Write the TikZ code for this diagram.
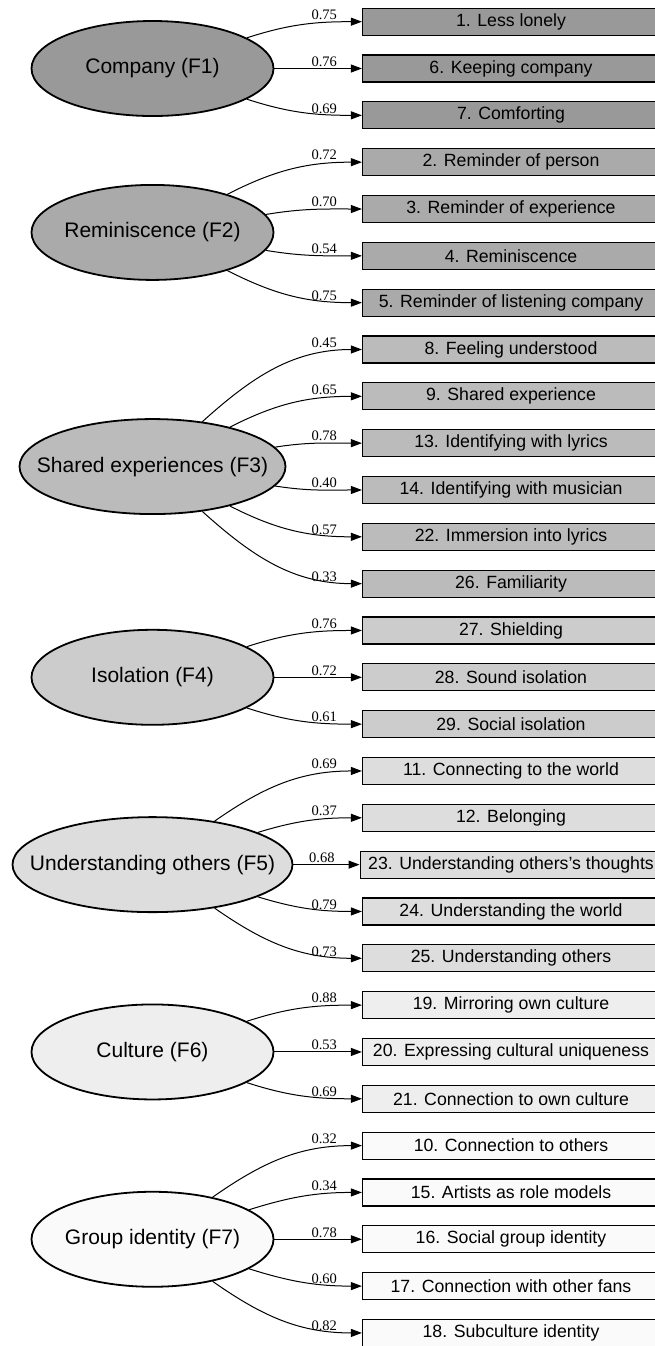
\documentclass[tikz,border=0pt]{standalone}
\usepackage{fontspec}
\setmainfont{Liberation Sans}
\newfontfamily\loadfont{Liberation Serif}
\usepackage{xcolor}
\usetikzlibrary{positioning,calc,shapes.geometric,arrows.meta}
\definecolor{fone}{HTML}{999999}
\definecolor{ftwo}{HTML}{AAAAAA}
\definecolor{fthree}{HTML}{BBBBBB}
\definecolor{ffour}{HTML}{CCCCCC}
\definecolor{ffive}{HTML}{DDDDDD}
\definecolor{fsix}{HTML}{EEEEEE}
\definecolor{fseven}{HTML}{FAFAFA}
\tikzset{
  indicator/.style={draw, rectangle, line width=1.2pt, minimum width=297pt, minimum height=27pt,
    inner xsep=8pt, inner ysep=0pt, font={\fontsize{17.7pt}{20pt}\selectfont}},
  latent/.style={draw, ellipse, line width=1.8pt, minimum width=242pt, minimum height=95pt,
    inner sep=0pt, font={\fontsize{21pt}{24pt}\selectfont}},
  loading/.style={line width=1pt, -{Triangle[length=11pt,width=8pt]}},
  coef/.style={font={\loadfont\fontsize{14.5pt}{16pt}\selectfont}, inner sep=0pt,
    anchor=south east, xshift=-24.5pt, yshift=1.5pt},
}
\newcommand{\zw}[1]{\makebox[0pt]{#1}}

\begin{document}
\begin{tikzpicture}[x=1pt, y=1pt, node distance=18.63pt]
  \useasboundingbox (0,0) rectangle (654,1346);
  \coordinate (col) at (152.5,0);

  % Define nodes
  \node[indicator, fill=fone] (i1) at (511,1324.3) {1. Less lonely};
  \node[indicator, fill=fone, below=of i1] (i6) {6. Keeping company};
  \node[indicator, fill=fone, below=of i6] (i7) {7. Comforting};
  \node[indicator, fill=ftwo, below=of i7] (i2) {2. Reminder of person};
  \node[indicator, fill=ftwo, below=of i2] (i3) {3. Reminder of experience};
  \node[indicator, fill=ftwo, below=of i3] (i4) {4. Reminiscence};
  \node[indicator, fill=ftwo, below=of i4] (i5) {5. Reminder of listening company};
  \node[indicator, fill=fthree, below=of i5] (i8) {8. Feeling understood};
  \node[indicator, fill=fthree, below=of i8] (i9) {9. Shared experience};
  \node[indicator, fill=fthree, below=of i9] (i13) {13. Identifying with lyrics};
  \node[indicator, fill=fthree, below=of i13] (i14) {14. Identifying with musician};
  \node[indicator, fill=fthree, below=of i14] (i22) {22. Immersion into lyrics};
  \node[indicator, fill=fthree, below=of i22] (i26) {26. Familiarity};
  \node[indicator, fill=ffour, below=of i26] (i27) {27. Shielding};
  \node[indicator, fill=ffour, below=of i27] (i28) {28. Sound isolation};
  \node[indicator, fill=ffour, below=of i28] (i29) {29. Social isolation};
  \node[indicator, fill=ffive, below=of i29] (i11) {11. Connecting to the world};
  \node[indicator, fill=ffive, below=of i11] (i12) {12. Belonging};
  \node[indicator, fill=ffive, below=of i12] (i23) {23. Understanding others's thoughts};
  \node[indicator, fill=ffive, below=of i23] (i24) {24. Understanding the world};
  \node[indicator, fill=ffive, below=of i24] (i25) {25. Understanding others};
  \node[indicator, fill=fsix, below=of i25] (i19) {19. Mirroring own culture};
  \node[indicator, fill=fsix, below=of i19] (i20) {20. Expressing cultural uniqueness};
  \node[indicator, fill=fsix, below=of i20] (i21) {21. Connection to own culture};
  \node[indicator, fill=fseven, below=of i21] (i10) {10. Connection to others};
  \node[indicator, fill=fseven, below=of i10] (i15) {15. Artists as role models};
  \node[indicator, fill=fseven, below=of i15] (i16) {16. Social group identity};
  \node[indicator, fill=fseven, below=of i16] (i17) {17. Connection with other fans};
  \node[indicator, fill=fseven, below=of i17] (i18) {18. Subculture identity};

  \node[latent, fill=fone] (f1) at (col |- i6) {\zw{Company (F1)}};
  \node[latent, fill=ftwo] (f2) at ($(col |- i3)!.5!(col |- i4)$) {\zw{Reminiscence (F2)}};
  \node[latent, fill=fthree, minimum width=266pt] (f3) at ($(col |- i13)!.5!(col |- i14)$) {\zw{Shared experiences (F3)}};
  \node[latent, fill=ffour] (f4) at (col |- i28) {\zw{Isolation (F4)}};
  \node[latent, fill=ffive, minimum width=280pt] (f5) at (col |- i23) {\zw{Understanding others (F5)}};
  \node[latent, fill=fsix] (f6) at (col |- i20) {\zw{Culture (F6)}};
  \node[latent, fill=fseven] (f7) at (col |- i16) {\zw{Group identity (F7)}};

  % Connect the nodes
  \draw[loading] (f1.18) to[out=18, in=180] (i1.west) node[coef] {0.75};
  \draw[loading] (f1.0) to[out=0, in=180] (i6.west) node[coef] {0.76};
  \draw[loading] (f1.-18) to[out=-18, in=180] (i7.west) node[coef] {0.69};

  \draw[loading] (f2.27) to[out=27, in=180] (i2.west) node[coef] {0.72};
  \draw[loading] (f2.9.5) to[out=9.5, in=180] (i3.west) node[coef] {0.70};
  \draw[loading] (f2.-9.5) to[out=-9.5, in=180] (i4.west) node[coef] {0.54};
  \draw[loading] (f2.-27) to[out=-27, in=180] (i5.west) node[coef] {0.75};

  \draw[loading] (f3.42) to[out=42, in=180] (i8.west) node[coef] {0.45};
  \draw[loading] (f3.27) to[out=27, in=180] (i9.west) node[coef] {0.65};
  \draw[loading] (f3.9) to[out=9, in=180] (i13.west) node[coef] {0.78};
  \draw[loading] (f3.-9) to[out=-9, in=180] (i14.west) node[coef] {0.40};
  \draw[loading] (f3.-27) to[out=-27, in=180] (i22.west) node[coef] {0.57};
  \draw[loading] (f3.-42) to[out=-42, in=180] (i26.west) node[coef] {0.33};

  \draw[loading] (f4.18) to[out=18, in=180] (i27.west) node[coef] {0.76};
  \draw[loading] (f4.0) to[out=0, in=180] (i28.west) node[coef] {0.72};
  \draw[loading] (f4.-18) to[out=-18, in=180] (i29.west) node[coef] {0.61};

  \draw[loading] (f5.35) to[out=35, in=180] (i11.west) node[coef] {0.69};
  \draw[loading] (f5.17) to[out=17, in=180] (i12.west) node[coef] {0.37};
  \draw[loading] (f5.0) to[out=0, in=180] (i23.west) node[coef] {0.68};
  \draw[loading] (f5.-17) to[out=-17, in=180] (i24.west) node[coef] {0.79};
  \draw[loading] (f5.-35) to[out=-35, in=180] (i25.west) node[coef] {0.73};

  \draw[loading] (f6.18) to[out=18, in=180] (i19.west) node[coef] {0.88};
  \draw[loading] (f6.0) to[out=0, in=180] (i20.west) node[coef] {0.53};
  \draw[loading] (f6.-18) to[out=-18, in=180] (i21.west) node[coef] {0.69};

  \draw[loading] (f7.35) to[out=35, in=180] (i10.west) node[coef] {0.32};
  \draw[loading] (f7.17.5) to[out=17.5, in=180] (i15.west) node[coef] {0.34};
  \draw[loading] (f7.0) to[out=0, in=180] (i16.west) node[coef] {0.78};
  \draw[loading] (f7.-17.5) to[out=-17.5, in=180] (i17.west) node[coef] {0.60};
  \draw[loading] (f7.-35) to[out=-35, in=180] (i18.west) node[coef] {0.82};
\end{tikzpicture}
\end{document}
